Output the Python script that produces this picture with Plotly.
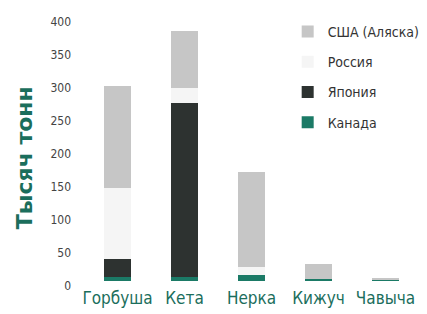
import plotly.graph_objects as go

categories = ["Горбуша", "Кета", "Нерка", "Кижуч", "Чавыча"]
canada = [6, 6, 9, 3, 2]
japan = [27, 264, 0, 0, 0]
russia = [108, 22, 12, 0, 0]
usa = [154, 87, 144, 23, 3]
y_ticks = [0, 50, 100, 150, 200, 250, 300, 350, 400]

series = [
    ("Канада", canada, "#1b7a66", 4),
    ("Япония", japan, "#2d3230", 3),
    ("Россия", russia, "#f5f5f5", 2),
    ("США (Аляска)", usa, "#c6c6c6", 1),
]

narrow = "DejaVu Sans Condensed, Liberation Sans Narrow, sans-serif"
green = "#1b6e5c"

fig = go.Figure()
for i, (name, vals, col, rank) in enumerate(series):
    fig.add_trace(go.Bar(
        x=categories, y=vals, name=name,
        marker=dict(color=col, line=dict(width=0)),
        legendgroup=f"g{i}", legendrank=rank,
    ))

fig.update_layout(
    width=419, height=306,
    barmode="stack", bargap=0.6,
    margin=dict(l=76, r=8, t=9, b=33, autoexpand=False),
    plot_bgcolor="white", paper_bgcolor="white",
    showlegend=True,
    legend=dict(
        xref="container", yref="container",
        x=0.6675, y=0.974, xanchor="left", yanchor="top",
        traceorder="grouped", tracegroupgap=9,
        itemwidth=30,
        font=dict(family=narrow, size=14, color="#333333"),
        bgcolor="rgba(0,0,0,0)",
    ),
    xaxis=dict(
        showgrid=False, showline=False, zeroline=False, ticks="",
        tickangle=0, automargin=False, ticklabelstandoff=5,
        tickfont=dict(family=narrow, size=17, color=green),
    ),
    yaxis=dict(
        range=[0, 400], tickvals=y_ticks, automargin=False,
        showgrid=False, showline=False, zeroline=False, ticks="",
        tickfont=dict(family=narrow, size=12, color="#444444"),
        ticklabelshift=5, ticklabelstandoff=12,
    ),
    annotations=[dict(
        text="<b>Тысяч тонн</b>", textangle=-90,
        xref="paper", yref="paper",
        x=-0.175, y=0.466, xanchor="center", yanchor="middle",
        showarrow=False,
        font=dict(family="DejaVu Sans", size=22, color=green),
    )],
)

fig.write_html("out.html")
